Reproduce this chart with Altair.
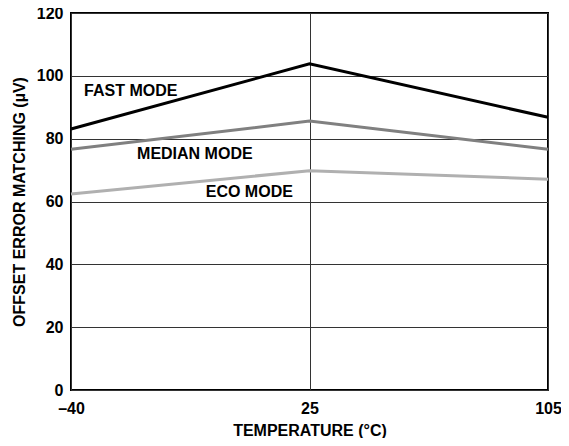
import altair as alt
import pandas as pd

temps = ["\u201340", "25", "105"]
temp_idx = [0, 1, 2]
fast = [83.1, 103.8, 86.8]
median = [76.6, 85.6, 76.6]
eco = [62.4, 69.8, 67.1]

modes = ["FAST MODE", "MEDIAN MODE", "ECO MODE"]
colors = ["#000000", "#808080", "#b0b0b0"]
label_x = [0.055, 0.277, 0.565]
label_y = [95.3, 75.1, 63.1]

rows = []
for m, vals in zip(modes, [fast, median, eco]):
    for i, v in zip(temp_idx, vals):
        rows.append({"mode": m, "t": i, "v": v})
df = pd.DataFrame(rows)
lab = pd.DataFrame({"mode": modes, "x": label_x, "y": label_y})

label_expr = "[" + ",".join(f"'{t}'" for t in temps) + "][datum.value]"

xs = alt.Scale(domain=[0, 2], nice=False, zero=False)
ys = alt.Scale(domain=[0, 120], nice=False)
cs = alt.Scale(domain=modes, range=colors)

lines = alt.Chart(df).mark_line(strokeWidth=3, strokeJoin="miter").encode(
    x=alt.X("t:Q", scale=xs, axis=alt.Axis(values=temp_idx, labelExpr=label_expr,
            title="TEMPERATURE (°C)", grid=True, labelFlush=False)),
    y=alt.Y("v:Q", scale=ys, axis=alt.Axis(values=list(range(0, 121, 20)),
            title="OFFSET ERROR MATCHING (µV)", grid=True)),
    color=alt.Color("mode:N", scale=cs, legend=None),
    detail="mode:N",
)

texts = alt.Chart(lab).mark_text(align="left", baseline="middle", fontSize=16,
                                 fontWeight="bold", font="Liberation Sans", color="#000").encode(
    x=alt.X("x:Q", scale=xs),
    y=alt.Y("y:Q", scale=ys),
    text="mode:N",
)

chart = alt.layer(lines, texts).properties(
    width=477, height=377,
    autosize=alt.AutoSizeParams(type="none"),
    padding={"left": 63, "top": 5, "right": 13, "bottom": 48},
).configure_view(stroke="#000", strokeWidth=2).configure_axis(
    domain=False, ticks=False, gridColor="#333333", gridWidth=1, gridOpacity=1,
    labelFont="Liberation Sans", labelFontWeight="bold", labelFontSize=16, labelColor="#000",
    titleFont="Liberation Sans", titleFontWeight="bold", titleFontSize=16, titleColor="#000",
).configure_axisY(labelPadding=8, titlePadding=9).configure_axisX(labelPadding=10, titlePadding=6)

chart.save("out.html", embed_options={"renderer": "svg", "actions": False})
